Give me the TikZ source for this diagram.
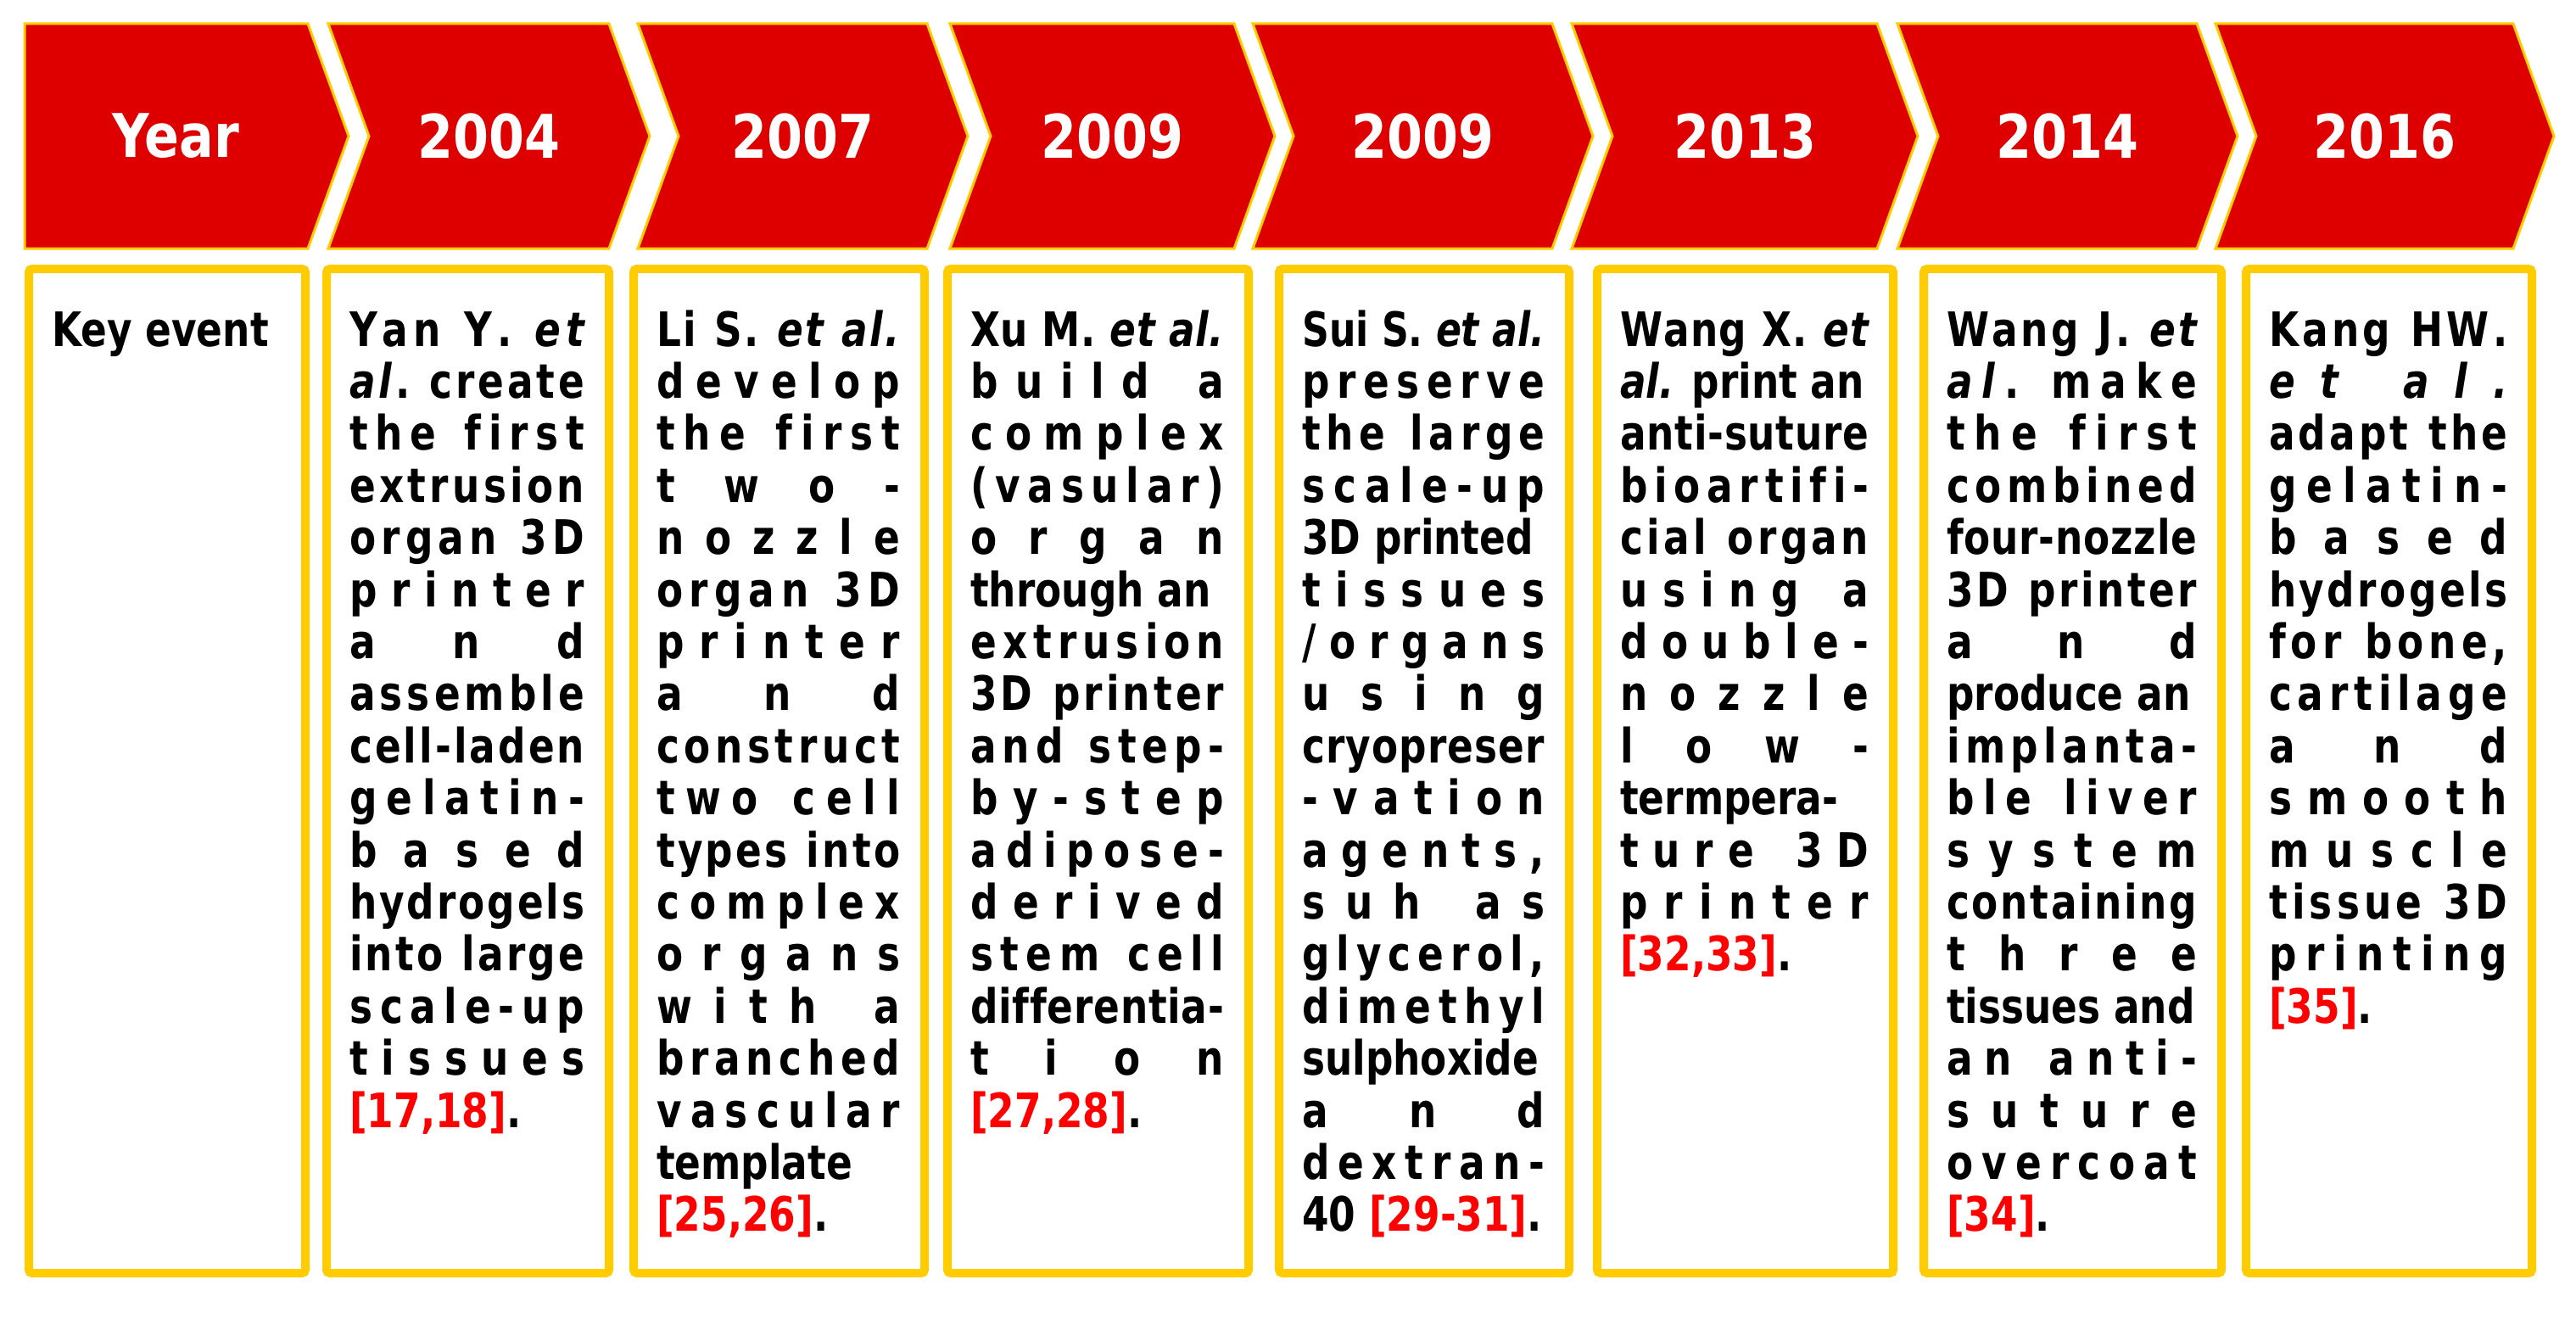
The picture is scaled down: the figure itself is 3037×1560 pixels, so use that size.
\documentclass[tikz,border=0pt]{standalone}
\usepackage{fontspec}
\usepackage{graphicx}
\setmainfont{DejaVu Sans}[FakeStretch=0.81]
\newfontfamily\yrfont{DejaVu Sans}[FakeStretch=0.85]
\definecolor{chred}{RGB}{222,0,0}
\definecolor{gold}{RGB}{255,204,0}
\definecolor{refred}{RGB}{255,0,0}
\newlength\colw
\newsavebox\lnbox
% distribute characters over the column width
\def\dstA#1{{#1}\futurelet\dstnext\dstB}
\def\dstB{\ifx\dstnext\relax\expandafter\dstEnd\else\hfill\expandafter\dstA\fi}
\def\dstEnd\relax{}
\newcommand\Lf[1]{%
  \sbox\lnbox{#1}%
  \ifdim\wd\lnbox>\colw
    \pgfmathsetmacro\lnfac{\the\colw/\the\wd\lnbox}%
    \hbox to\colw{\scalebox{\lnfac}[1]{\usebox\lnbox}\hss}%
  \else
    \hbox to\colw{\usebox\lnbox\hss}%
  \fi}
\newcommand\Ls[1]{%
  \sbox\lnbox{#1}%
  \ifdim\wd\lnbox>\colw
    \pgfmathsetmacro\lnfac{\the\colw/\the\wd\lnbox}%
    \hbox to\colw{\scalebox{\lnfac}[1]{\usebox\lnbox}\hss}%
  \else
    \hbox to\colw{\dstA#1\relax}%
  \fi}
\newcommand\Column[2]{\setlength\colw{#1pt}\vtop{\baselineskip=61.4pt\lineskiplimit=-500pt\lineskip=0pt #2}}
\tikzset{
  chev/.style={fill=chred,draw=gold,line width=3pt,line join=miter},
  yrlabel/.style={text=white,font=\yrfont\bfseries\fontsize{71}{80}\selectfont,inner sep=0pt},
  evbox/.style={draw=gold,fill=white,line width=10pt,rounded corners=4pt,anchor=north west,minimum height=1184pt,inner sep=0pt},
  evtext/.style={anchor=base west,inner sep=0pt,font=\bfseries\fontsize{56}{61.4}\selectfont}
}
\begin{document}
\begin{tikzpicture}[x=1pt,y=-1pt]
\useasboundingbox[fill=white] (0,0) rectangle (3037,1560);
% chevrons
\def\ct{28}\def\cb{293}\def\cm{160.5}\def\cd{48}
\draw[chev] (29,\ct) -- (363,\ct) -- (363+\cd,\cm) -- (363,\cb) -- (29,\cb) -- cycle;
\foreach \L/\R in {387/718,752/1093,1120/1455,1477/1830,1853/2213,2237/2590,2612/2963}{
  \draw[chev] (\L,\ct) -- (\R,\ct) -- (\R+\cd,\cm) -- (\R,\cb) -- (\L,\cb) -- (\L+\cd,\cm) -- cycle;
}
\node[yrlabel] (y1) at (207,\cm) {Year};
\node[yrlabel] (y2) at (576.5,\cm) {2004};
\node[yrlabel] (y3) at (946.5,\cm) {2007};
\node[yrlabel] (y4) at (1311.5,\cm) {2009};
\node[yrlabel] (y5) at (1677.5,\cm) {2009};
\node[yrlabel] (y6) at (2057,\cm) {2013};
\node[yrlabel] (y7) at (2437.5,\cm) {2014};
\node[yrlabel] (y8) at (2811.5,\cm) {2016};
% event boxes
\node[evbox,minimum width=326pt] (b1) at (29,312) {};
\node[evbox,minimum width=333pt] (b2) at (380,312) {};
\node[evbox,minimum width=343pt] (b3) at (742,312) {};
\node[evbox,minimum width=355pt] (b4) at (1112,312) {};
\node[evbox,minimum width=342pt] (b5) at (1503,312) {};
\node[evbox,minimum width=349pt] (b6) at (1878,312) {};
\node[evbox,minimum width=351pt] (b7) at (2263,312) {};
\node[evbox,minimum width=337pt] (b8) at (2643,312) {};
% texts
\node[evtext] (t1) at (61,408) {\Column{280}{\Lf{Key event}}};
\node[evtext] (t2) at (412,408) {\Column{277}{%
\Ls{Yan~Y.~{\itshape e}{\itshape t}}
\Ls{{\itshape a}{\itshape l}.~create}
\Ls{the~first}
\Ls{extrusion}
\Ls{organ~3D}
\Ls{printer}
\Ls{and}
\Ls{assemble}
\Ls{cell-laden}
\Ls{gelatin-}
\Ls{based}
\Ls{hydrogels}
\Ls{into~large}
\Ls{scale-up}
\Ls{tissues}
\Lf{\textcolor{refred}{[17,18]}.}}};
\node[evtext] (t3) at (774,408) {\Column{287}{%
\Ls{Li~S.~{\itshape e}{\itshape t}~{\itshape a}{\itshape l}{\itshape .}}
\Ls{develop}
\Ls{the~first}
\Ls{two-}
\Ls{nozzle}
\Ls{organ~3D}
\Ls{printer}
\Ls{and}
\Ls{construct}
\Ls{two~cell}
\Ls{types~into}
\Ls{complex}
\Ls{organs}
\Ls{with~a}
\Ls{branched}
\Ls{vascular}
\Lf{template}
\Lf{\textcolor{refred}{[25,26]}.}}};
\node[evtext] (t4) at (1144,408) {\Column{299}{%
\Ls{Xu~M.~{\itshape e}{\itshape t}~{\itshape a}{\itshape l}{\itshape .}}
\Ls{build~a}
\Ls{complex}
\Ls{(vasular)}
\Ls{organ}
\Lf{through an}
\Ls{extrusion}
\Ls{3D~printer}
\Ls{and~step-}
\Ls{by-step}
\Ls{adipose-}
\Ls{derived}
\Ls{stem~cell}
\Ls{differentia-}
\Ls{tion}
\Lf{\textcolor{refred}{[27,28]}.}}};
\node[evtext] (t5) at (1535,408) {\Column{286}{%
\Ls{Sui~S.~{\itshape e}{\itshape t}~{\itshape a}{\itshape l}{\itshape .}}
\Ls{preserve}
\Ls{the~large}
\Ls{scale-up}
\Lf{3D printed}
\Ls{tissues}
\Ls{/organs}
\Ls{using}
\Ls{cryopreser}
\Ls{-vation}
\Ls{agents,}
\Ls{suh~as}
\Ls{glycerol,}
\Ls{dimethyl}
\Lf{sulphoxide}
\Ls{and}
\Ls{dextran-}
\Lf{40 \textcolor{refred}{[29-31]}.}}};
\node[evtext] (t6) at (1910,408) {\Column{293}{%
\Ls{Wang~X.~{\itshape e}{\itshape t}}
\Lf{{\itshape al.} print an}
\Ls{anti-suture}
\Ls{bioartifi-}
\Ls{cial~organ}
\Ls{using~a}
\Ls{double-}
\Ls{nozzle}
\Ls{low-}
\Lf{termpera-}
\Ls{ture~3D}
\Ls{printer}
\Lf{\textcolor{refred}{[32,33]}.}}};
\node[evtext] (t7) at (2295,408) {\Column{295}{%
\Ls{Wang~J.~{\itshape e}{\itshape t}}
\Ls{{\itshape a}{\itshape l}.~make}
\Ls{the~first}
\Ls{combined}
\Ls{four-nozzle}
\Ls{3D~printer}
\Ls{and}
\Lf{produce an}
\Ls{implanta-}
\Ls{ble~liver}
\Ls{system}
\Ls{containing}
\Ls{three}
\Lf{tissues and}
\Ls{an~anti-}
\Ls{suture}
\Ls{overcoat}
\Lf{\textcolor{refred}{[34]}.}}};
\node[evtext] (t8) at (2675,408) {\Column{281}{%
\Ls{Kang~HW.}
\Ls{{\itshape e}{\itshape t}~{\itshape a}{\itshape l}{\itshape .}}
\Ls{adapt~the}
\Ls{gelatin-}
\Ls{based}
\Ls{hydrogels}
\Ls{for~bone,}
\Ls{cartilage}
\Ls{and}
\Ls{smooth}
\Ls{muscle}
\Ls{tissue~3D}
\Ls{printing}
\Lf{\textcolor{refred}{[35]}.}}};
\end{tikzpicture}
\end{document}
